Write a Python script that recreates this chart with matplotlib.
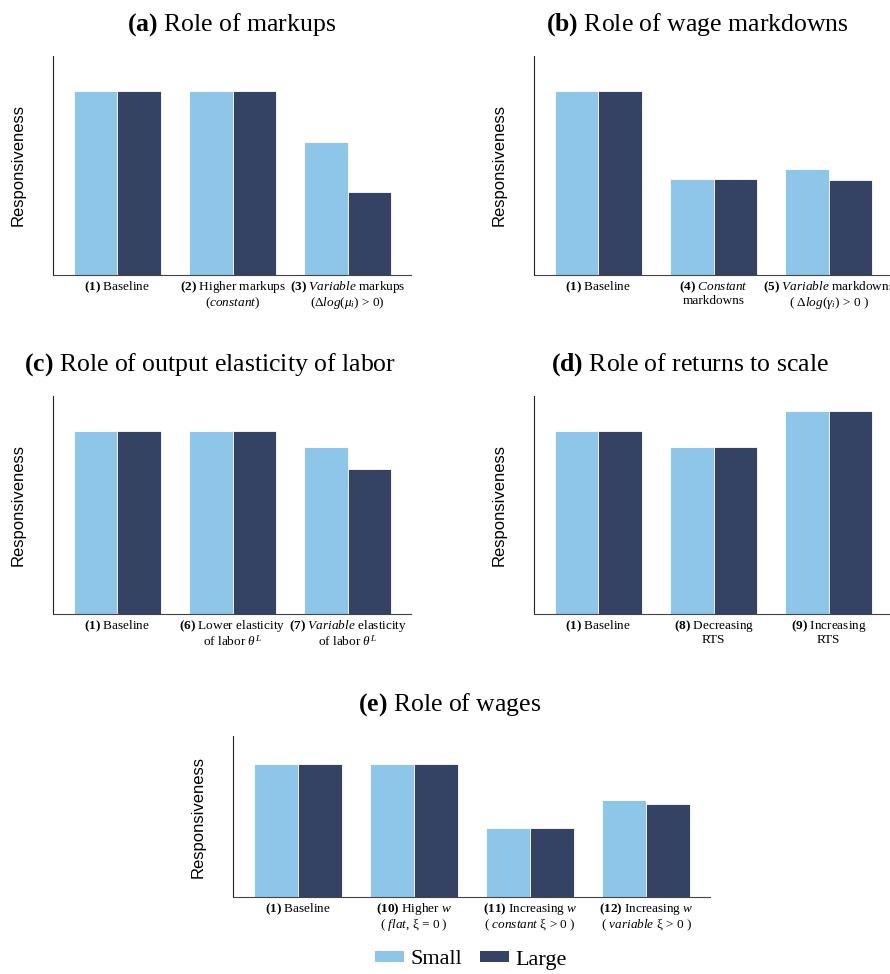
import matplotlib
matplotlib.use("Agg")
import matplotlib.pyplot as plt
from matplotlib.patches import Patch
import numpy as np

plt.rcParams["mathtext.fontset"] = "custom"
plt.rcParams["mathtext.rm"] = "Liberation Serif"
plt.rcParams["mathtext.it"] = "Liberation Serif:italic"
plt.rcParams["mathtext.bf"] = "Liberation Serif:bold"
plt.rcParams["font.family"] = ["Liberation Serif", "DejaVu Serif"]

SMALL = "#8ec6ea"
LARGE = "#344263"

# ---- data (baseline = 1) ----
titles = [r"$\mathbf{(a)}$ Role of markups",
          r"$\mathbf{(b)}$ Role of wage markdowns",
          r"$\mathbf{(c)}$ Role of output elasticity of labor",
          r"$\mathbf{(d)}$ Role of returns to scale",
          r"$\mathbf{(e)}$ Role of wages"]

labels_a = [r"$\mathbf{(1)}$ Baseline",
            "$\\mathbf{(2)}$ Higher markups\n$\\mathit{(constant)}$",
            "$\\mathbf{(3)}$ $\\mathit{Variable}$ markups\n(Δ$\\mathit{log}(\\mu_i)$ > 0)"]
small_a = [1.0, 1.0, 0.72]
large_a = [1.0, 1.0, 0.45]

labels_b = [r"$\mathbf{(1)}$ Baseline",
            "$\\mathbf{(4)}$ $\\mathit{Constant}$\nmarkdowns",
            "$\\mathbf{(5)}$ $\\mathit{Variable}$ markdowns\n( Δ$\\mathit{log}(\\gamma_i)$ > 0 )"]
small_b = [1.0, 0.52, 0.576]
large_b = [1.0, 0.52, 0.516]

labels_c = [r"$\mathbf{(1)}$ Baseline",
            "$\\mathbf{(6)}$ Lower elasticity\nof labor $\\theta^L$",
            "$\\mathbf{(7)}$ $\\mathit{Variable}$ elasticity\nof labor $\\theta^L$"]
small_c = [1.0, 1.0, 0.91]
large_c = [1.0, 1.0, 0.79]

labels_d = [r"$\mathbf{(1)}$ Baseline",
            "$\\mathbf{(8)}$ Decreasing\nRTS",
            "$\\mathbf{(9)}$ Increasing\nRTS"]
small_d = [1.0, 0.91, 1.11]
large_d = [1.0, 0.91, 1.11]

labels_e = [r"$\mathbf{(1)}$ Baseline",
            "$\\mathbf{(10)}$ Higher $w$\n( $\\mathit{flat}$, ξ = 0 )",
            "$\\mathbf{(11)}$ Increasing $w$\n( $\\mathit{constant}$ ξ > 0 )",
            "$\\mathbf{(12)}$ Increasing $w$\n( $\\mathit{variable}$ ξ > 0 )"]
small_e = [1.0, 1.0, 0.52, 0.73]
large_e = [1.0, 1.0, 0.52, 0.70]

W, H = 890, 974
fig = plt.figure(figsize=(W / 100, H / 100), dpi=100)


def box(l, t, r, b):
    return [l / W, 1 - b / H, (r - l) / W, (b - t) / H]


def panel(px, title, title_x, labels, s, lg, ylim=1.19):
    l, t, r, b = px
    ax = fig.add_axes(box(l, t, r, b))
    x = np.arange(len(labels))
    w = 0.38
    ax.bar(x - w / 2, s, w, color=SMALL, edgecolor="white", linewidth=0.6)
    ax.bar(x + w / 2, lg, w, color=LARGE, edgecolor="white", linewidth=0.6)
    ax.set_xlim(-0.56, len(labels) - 1 + 0.55)
    ax.set_ylim(0, ylim)
    ax.set_xticks(x)
    ax.set_xticklabels(labels, fontsize=9.5, linespacing=1.0)
    ax.set_yticks([])
    ax.tick_params(axis="x", length=0, pad=3)
    for sp in ["top", "right"]:
        ax.spines[sp].set_visible(False)
    ax.spines["left"].set_color("#222222")
    ax.spines["bottom"].set_color("#444444")
    ax.set_ylabel("Responsiveness", fontsize=12, family="Liberation Sans", labelpad=20)
    ax.set_title(title, fontsize=18.5, pad=18, x=(title_x - l) / (r - l))
    return ax


panel((53, 56, 411, 275), titles[0], 232, labels_a, small_a, large_a)
panel((534, 56, 892, 275), titles[1], 697, labels_b, small_b, large_b)
panel((53, 396, 411, 614), titles[2], 210, labels_c, small_c, large_c)
panel((534, 396, 892, 614), titles[3], 690, labels_d, small_d, large_d)
panel((233, 736, 710, 897), titles[4], 450, labels_e, small_e, large_e, ylim=1.21)

handles = [Patch(facecolor=SMALL, label="Small"), Patch(facecolor=LARGE, label="Large")]
fig.legend(handles=handles, loc="center", bbox_to_anchor=(471 / W, 1 - 960 / H),
           ncol=2, frameon=False, fontsize=16, handlelength=1.3, handleheight=0.4,
           handletextpad=0.3, columnspacing=0.8)

fig.savefig("out.png", dpi=100)
